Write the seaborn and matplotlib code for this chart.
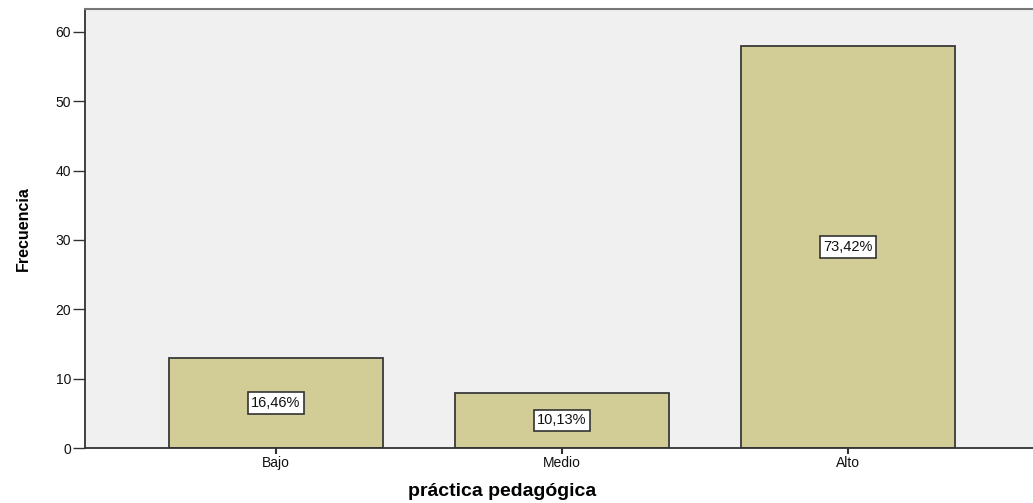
import matplotlib
matplotlib.use("Agg")
import matplotlib.pyplot as plt
import seaborn as sns

# Data
categorias = ["Bajo", "Medio", "Alto"]
frecuencias = [13, 8, 58]
porcentajes = ["16,46%", "10,13%", "73,42%"]

sns.set_style("white")
plt.rcParams["font.family"] = ["Liberation Sans", "DejaVu Sans"]

fig = plt.figure(figsize=(10.33, 5.03), dpi=100)
ax = fig.add_axes([0.0823, 0.1093, 0.9177, 0.8728])
ax.set_facecolor("#f0f0f0")

sns.barplot(x=categorias, y=frecuencias, order=categorias, color="#d2cd96",
            saturation=1, edgecolor="#3a3a3a", linewidth=1.3, width=0.75, ax=ax)

# percentage labels in the middle of each bar
for i, (f, p) in enumerate(zip(frecuencias, porcentajes)):
    ax.text(i, f / 2, p, ha="center", va="center", fontsize=10.5, color="#111111",
            bbox=dict(boxstyle="square,pad=0.25", fc="white", ec="#333333", lw=1.2))

ax.set_xlim(-0.668, 2.647)
ax.set_ylim(0, 63.3)
ax.set_yticks(range(0, 61, 10))

ax.spines["right"].set_visible(False)
ax.spines["top"].set_color("#777777")
ax.spines["top"].set_linewidth(1.5)
ax.spines["left"].set_color("#333333")
ax.spines["left"].set_linewidth(1.3)
ax.spines["bottom"].set_color("#333333")
ax.spines["bottom"].set_linewidth(1.3)

ax.tick_params(axis="y", left=True, length=9, width=1, color="#333333",
               labelsize=10, labelcolor="#111111", pad=1)
ax.tick_params(axis="x", bottom=True, length=4, width=1.5, color="#333333",
               labelsize=10, labelcolor="#111111", pad=2)

ax.set_ylabel("Frecuencia", fontweight="bold", fontsize=11.5, color="black",
              labelpad=18)
ax.set_xlabel("práctica pedagógica", fontweight="bold", fontsize=14, color="black",
              labelpad=9)
ax.xaxis.label.set_x(0.44)

plt.savefig("out.png", dpi=100)
